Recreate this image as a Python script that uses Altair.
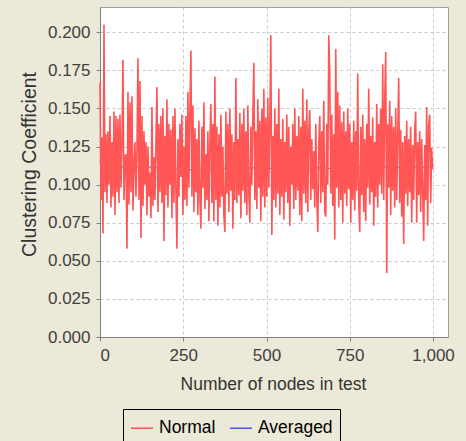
import altair as alt
import pandas as pd

# Clustering coefficient sampled every third node count (0, 3, 6, ... 999)
normal_0_249 = [
    0.167, 0.090, 0.131, 0.068, 0.205, 0.095, 0.133, 0.088, 0.135, 0.100,
    0.145, 0.085, 0.128, 0.092, 0.148, 0.080, 0.145, 0.095, 0.143, 0.088,
    0.146, 0.098, 0.127, 0.182, 0.090, 0.118, 0.120, 0.058, 0.161, 0.087,
    0.154, 0.095, 0.158, 0.083, 0.112, 0.128, 0.092, 0.122, 0.183, 0.090,
    0.168, 0.065, 0.145, 0.086, 0.135, 0.100, 0.128, 0.080, 0.125, 0.092,
    0.108, 0.078, 0.151, 0.086, 0.118, 0.090, 0.128, 0.164, 0.082, 0.140,
    0.095, 0.145, 0.088, 0.150, 0.063, 0.132, 0.093, 0.156, 0.085, 0.140,
    0.100, 0.136, 0.078, 0.145, 0.088, 0.150, 0.095, 0.058, 0.130, 0.092,
    0.140, 0.105, 0.146, 0.080,
]
normal_252_498 = [
    0.125, 0.090, 0.145, 0.086, 0.161, 0.098, 0.150, 0.188, 0.092, 0.152,
    0.082, 0.137, 0.095, 0.130, 0.080, 0.142, 0.090, 0.071, 0.138, 0.098,
    0.154, 0.084, 0.120, 0.090, 0.135, 0.076, 0.128, 0.153, 0.088, 0.140,
    0.076, 0.171, 0.090, 0.138, 0.073, 0.133, 0.085, 0.146, 0.092, 0.125,
    0.080, 0.069, 0.148, 0.094, 0.140, 0.082, 0.150, 0.096, 0.133, 0.071,
    0.128, 0.090, 0.170, 0.088, 0.130, 0.093, 0.147, 0.078, 0.140, 0.096,
    0.150, 0.088, 0.135, 0.080, 0.152, 0.094, 0.075, 0.138, 0.100, 0.146,
    0.180, 0.090, 0.135, 0.084, 0.156, 0.098, 0.142, 0.076, 0.150, 0.092,
    0.163, 0.085, 0.144,
]
normal_501_747 = [
    0.092, 0.157, 0.098, 0.140, 0.198, 0.067, 0.132, 0.090, 0.150, 0.085,
    0.140, 0.094, 0.163, 0.080, 0.130, 0.092, 0.143, 0.077, 0.128, 0.095,
    0.146, 0.088, 0.138, 0.073, 0.125, 0.100, 0.140, 0.084, 0.150, 0.090,
    0.132, 0.096, 0.145, 0.080, 0.138, 0.076, 0.163, 0.094, 0.142, 0.088,
    0.156, 0.082, 0.136, 0.149, 0.090, 0.130, 0.097, 0.122, 0.085, 0.140,
    0.092, 0.069, 0.126, 0.145, 0.088, 0.135, 0.095, 0.155, 0.082, 0.079,
    0.140, 0.100, 0.198, 0.172, 0.094, 0.146, 0.086, 0.133, 0.064, 0.189,
    0.098, 0.161, 0.085, 0.152, 0.090, 0.141, 0.075, 0.148, 0.094, 0.135,
    0.086, 0.150, 0.097,
]
normal_750_999 = [
    0.140, 0.075, 0.128, 0.090, 0.142, 0.083, 0.135, 0.096, 0.173, 0.088,
    0.069, 0.138, 0.093, 0.146, 0.082, 0.130, 0.076, 0.140, 0.098, 0.163,
    0.087, 0.132, 0.095, 0.144, 0.073, 0.128, 0.092, 0.153, 0.085, 0.140,
    0.100, 0.150, 0.094, 0.179, 0.090, 0.155, 0.187, 0.042, 0.140, 0.098,
    0.155, 0.080, 0.145, 0.096, 0.138, 0.085, 0.150, 0.090, 0.132, 0.170,
    0.088, 0.136, 0.079, 0.128, 0.061, 0.132, 0.094, 0.142, 0.086, 0.130,
    0.095, 0.138, 0.075, 0.126, 0.090, 0.135, 0.148, 0.075, 0.128, 0.093,
    0.135, 0.082, 0.130, 0.096, 0.063, 0.126, 0.090, 0.151, 0.073, 0.138,
    0.146, 0.088, 0.124, 0.110,
]
normal_step = 3

# Running average of the coefficient
averaged_nodes = [0, 6, 12, 18, 24, 36, 48, 72, 100, 150, 200, 250, 300, 350,
                  400, 450, 500, 550, 600, 650, 700, 750, 800, 850, 900, 950, 999]
averaged_values = [0.116, 0.106, 0.115, 0.109, 0.113, 0.111, 0.112, 0.1115, 0.1116,
                   0.1115, 0.1110, 0.1096, 0.1100, 0.1106, 0.1110, 0.1110, 0.1108,
                   0.1106, 0.1109, 0.1110, 0.1106, 0.1110, 0.1113, 0.1115, 0.1114,
                   0.1115, 0.1115]

series_names = ["Normal", "Averaged"]
series_colors = ["#FF5555", "#5555FF"]
x_ticks = [0, 250, 500, 750, 1000]
y_ticks = [0.0, 0.025, 0.05, 0.075, 0.1, 0.125, 0.15, 0.175, 0.2]

normal = normal_0_249 + normal_252_498 + normal_501_747 + normal_750_999
df_normal = pd.DataFrame({
    "nodes": [normal_step * i for i in range(len(normal))],
    "value": normal,
    "series": "Normal",
})
df_avg = pd.DataFrame({
    "nodes": averaged_nodes,
    "value": averaged_values,
    "series": "Averaged",
})

FONT = "Liberation Sans"

x_enc = alt.X(
    "nodes:Q",
    scale=alt.Scale(domain=[0, 1045], nice=False, zero=True),
    axis=alt.Axis(
        values=x_ticks, format=",d", title="Number of nodes in test",
        titleFontSize=17.5, titleY=52, titleX=173, titleBaseline="alphabetic",
        titleAlign="center",
    ),
)
y_enc = alt.Y(
    "value:Q",
    scale=alt.Scale(domain=[0, 0.2166], nice=False, zero=True),
    axis=alt.Axis(
        values=y_ticks, format=".3f", title="Clustering Coefficient",
        titleFontSize=19.5, titleAngle=270, titleX=-65, titleY=157,
        titleAlign="center", titleBaseline="alphabetic",
    ),
)
color_enc = alt.Color(
    "series:N",
    scale=alt.Scale(domain=series_names, range=series_colors),
    legend=alt.Legend(
        title=None, orient="none", legendX=23, legendY=402,
        direction="horizontal", columns=2, symbolType="stroke",
        symbolSize=484, symbolStrokeWidth=1.6, labelFont=FONT,
        labelFontSize=17.5, labelColor="#000000", labelOffset=5,
        columnPadding=10, padding=7, strokeColor="#000000",
    ),
)

avg_layer = alt.Chart(df_avg).mark_line(strokeWidth=1).encode(
    x=x_enc, y=y_enc, color=color_enc
)
normal_layer = alt.Chart(df_normal).mark_line(strokeWidth=1.6).encode(
    x=x_enc, y=y_enc, color=color_enc
)

chart = (
    alt.layer(avg_layer, normal_layer)
    .properties(
        width=348, height=330,
        autosize=alt.AutoSizeParams(type="none"),
        padding={"left": 100, "top": 7, "right": 18, "bottom": 104},
        background="#ECE9D8",
    )
    .configure_view(fill="white", stroke="#a0a0a0", strokeWidth=1)
    .configure_axis(
        labelFont=FONT, labelFontSize=17, labelColor="#404040",
        labelPadding=6, tickSize=4, tickColor="#808080",
        domainColor="#808080", domainWidth=1,
        titleFont=FONT, titleFontWeight="normal", titleColor="#333333",
        grid=True, gridColor="#c8c8c8", gridDash=[3, 3], gridWidth=1,
    )
)

chart.save("out.html", embed_options={"renderer": "svg", "actions": False})
